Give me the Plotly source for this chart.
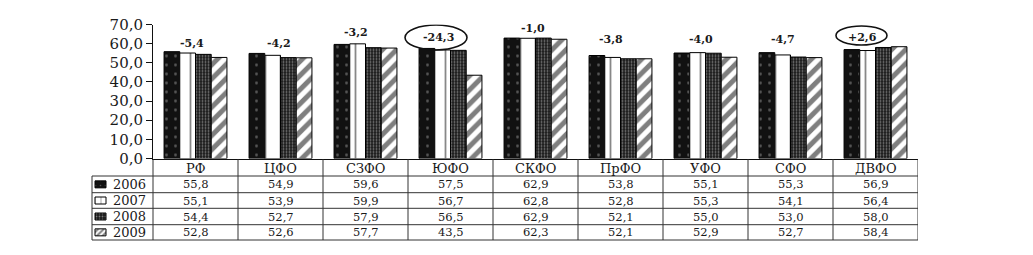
import plotly.graph_objects as go

# ---------------- data ----------------
categories = ["РФ", "ЦФО", "СЗФО", "ЮФО", "СКФО", "ПрФО", "УФО", "СФО", "ДВФО"]
years = ["2006", "2007", "2008", "2009"]
v2006 = [55.8, 54.9, 59.6, 57.5, 62.9, 53.8, 55.1, 55.3, 56.9]
v2007 = [55.1, 53.9, 59.9, 56.7, 62.8, 52.8, 55.3, 54.1, 56.4]
v2008 = [54.4, 52.7, 57.9, 56.5, 62.9, 52.1, 55.0, 53.0, 58.0]
v2009 = [52.8, 52.6, 57.7, 43.5, 62.3, 52.1, 52.9, 52.7, 58.4]
change_labels = ["-5,4", "-4,2", "-3,2", "-24,3", "-1,0", "-3,8", "-4,0", "-4,7", "+2,6"]
y_ticks = [0, 10, 20, 30, 40, 50, 60, 70]

series = [v2006, v2007, v2008, v2009]

# ---------------- styles / layout ----------------
OFF = 8                         # page body margin
W, H = 1033 - 2 * OFF, 255 - 2 * OFF
PX_L, PX_R = 153 - OFF, 918 - OFF      # plot area x (pixels in figure)
PX_T, PX_B = 24.5 - OFF, 158.5 - OFF   # plot area y
FONT = "DejaVu Serif"
INK = "#1a1a1a"

styles = [
    dict(shape=".", bg="#111111", fg="#9a9a9a", size=9, solidity=0.08),
    dict(shape="|", bg="#ffffff", fg="#111111", size=15, solidity=0.12),
    dict(shape=".", bg="#1a1a1a", fg="#dddddd", size=3, solidity=0.3),
    dict(shape="/", bg="#ffffff", fg="#000000", size=10, solidity=0.5),
]
label_y = [60.3, 60.3, 65.6, 63.0, 67.7, 62.4, 62.4, 62.4, 63.2]
label_xshift = [-4, -2, -10, -12, -3, -10, -5, -8, -13]
circled = {3: (2.465, 3.194, 56.7, 69.7), 8: (7.535, 8.135, 59.3, 69.2)}

row_lines = [y - OFF for y in [159.3, 176.0, 192.7, 208.3, 224.7, 240.0]]
LEFT_COL = 92 - OFF

fig = go.Figure()

for yr, vals, st in zip(years, series, styles):
    fig.add_trace(go.Bar(
        x=categories, y=vals, name=yr, showlegend=False,
        marker=dict(color=st["bg"], line=dict(color="black", width=1),
                    pattern=dict(shape=st["shape"], fgcolor=st["fg"], bgcolor=st["bg"],
                                 size=st["size"], solidity=st["solidity"])),
        xaxis="x", yaxis="y", hoverinfo="skip",
    ))

shapes = []
annotations = []
key_pattern_size = [5, 6, 3, 4]
for r, (yr, st) in enumerate(zip(years, styles)):
    top, bot = row_lines[r + 1], row_lines[r + 2]
    cy = (top + bot) / 2
    x0, x1 = 95 - OFF, 106 - OFF
    y0, y1 = cy - 3.5, cy + 3.5
    fig.add_trace(go.Scatter(
        x=[x0, x1, x1, x0, x0], y=[y0, y0, y1, y1, y0], mode="lines",
        fill="toself", fillcolor=st["bg"], line=dict(color="black", width=1),
        fillpattern=dict(shape=st["shape"], fgcolor=st["fg"], bgcolor=st["bg"],
                         size=key_pattern_size[r], solidity=st["solidity"]),
        xaxis="x2", yaxis="y2", showlegend=False, hoverinfo="skip",
    ))
    annotations.append(dict(x=129 - OFF, y=cy, xref="x2", yref="y2", text=yr, showarrow=False,
                            font=dict(family=FONT, size=13, color=INK)))
    for i, c in enumerate(categories):
        annotations.append(dict(x=i, y=cy, xref="x", yref="y2",
                                text=f"{series[r][i]:.1f}".replace(".", ","), showarrow=False,
                                font=dict(family=FONT, size=11.5, color=INK)))

# header row (category names)
hdr_cy = (row_lines[0] + row_lines[1]) / 2 + 0.5
for i, c in enumerate(categories):
    annotations.append(dict(x=i, y=hdr_cy, xref="x", yref="y2", text=c, showarrow=False,
                            font=dict(family=FONT, size=13, color=INK)))

# change labels above bar groups
for i, t in enumerate(change_labels):
    annotations.append(dict(x=i, y=label_y[i], xref="x", yref="y", text=f"<b>{t}</b>",
                            showarrow=False, xshift=label_xshift[i],
                            font=dict(family=FONT, size=11, color=INK)))
for i, (xa, xb, ya, yb) in circled.items():
    shapes.append(dict(type="circle", xref="x", yref="y", x0=xa, x1=xb, y0=ya, y1=yb,
                       line=dict(color="#111111", width=1.6)))

# table frame
LC = "#333333"
for k in range(1, 10):
    shapes.append(dict(type="line", xref="x", yref="y2", x0=k - 0.5, x1=k - 0.5,
                       y0=row_lines[0], y1=row_lines[-1], line=dict(color=LC, width=1)))
shapes.append(dict(type="line", xref="x2", yref="y2", x0=PX_L, x1=PX_L,
                   y0=row_lines[0], y1=row_lines[-1], line=dict(color=LC, width=1)))
shapes.append(dict(type="line", xref="x2", yref="y2", x0=LEFT_COL, x1=LEFT_COL,
                   y0=row_lines[1], y1=row_lines[-1], line=dict(color=LC, width=1)))
for yl in row_lines[1:]:
    shapes.append(dict(type="line", xref="x2", yref="y2", x0=LEFT_COL, x1=PX_R,
                       y0=yl, y1=yl, line=dict(color=LC, width=1)))

fig.update_layout(
    width=W, height=H,
    margin=dict(l=0, r=0, t=0, b=0),
    paper_bgcolor="white", plot_bgcolor="rgba(0,0,0,0)",
    separators=", ",
    barmode="group", bargap=0.26, bargroupgap=0,
    xaxis=dict(domain=[PX_L / W, PX_R / W], type="category", categoryorder="array",
               categoryarray=categories, range=[-0.5, 8.5], showticklabels=False,
               ticks="", showline=True, linecolor="#111111", linewidth=1,
               showgrid=False, zeroline=False, anchor="y", automargin=False),
    yaxis=dict(domain=[(H - PX_B) / H, (H - PX_T) / H], range=[0, 70],
               tickvals=y_ticks, tickformat=".1f", ticks="outside", ticklen=6,
               tickcolor="#111111", showline=True, linecolor="#111111", linewidth=1,
               showgrid=False, zeroline=False, anchor="x", automargin=False,
               tickfont=dict(family=FONT, size=15, color=INK)),
    xaxis2=dict(domain=[0, 1], range=[0, W], visible=False, anchor="y2", fixedrange=True),
    yaxis2=dict(domain=[0, 1], range=[H, 0], visible=False, anchor="x2", fixedrange=True),
    shapes=shapes, annotations=annotations,
)

fig.write_html("out.html")
